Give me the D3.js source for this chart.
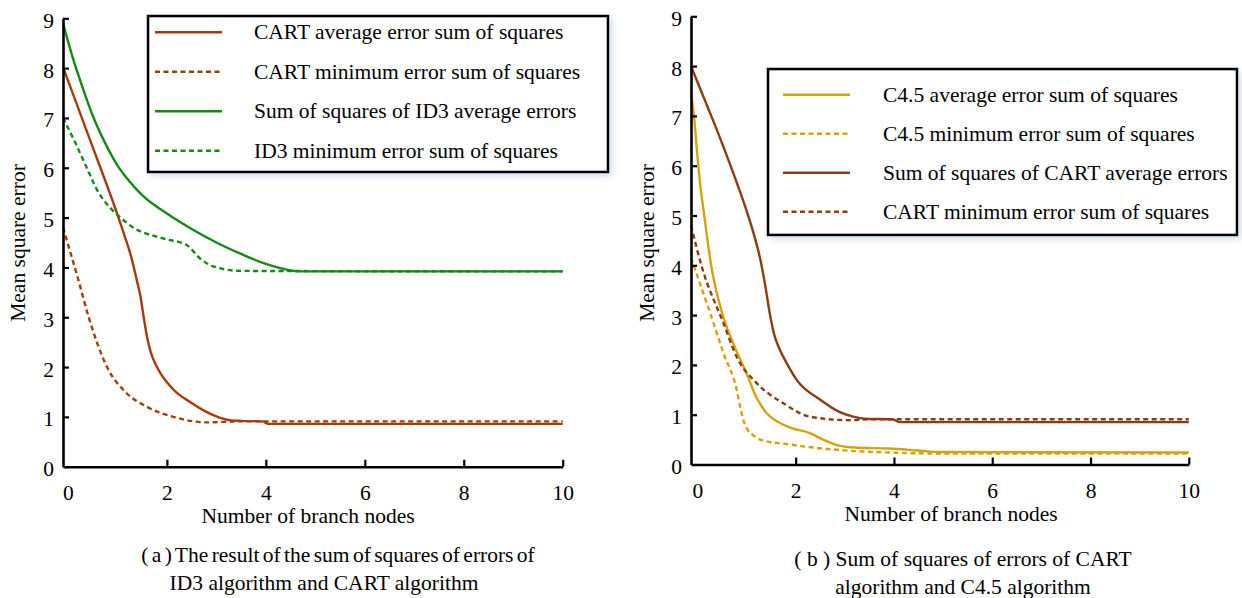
<!DOCTYPE html>
<html>
<head>
<meta charset="utf-8">
<script src="https://cdn.jsdelivr.net/npm/d3@7"></script>
<style>
  html, body { margin: 0; padding: 0; background: #fff; }
  svg { display: block; font-family: "Liberation Serif", "Times New Roman", serif; }
</style>
</head>
<body>
<svg id="chart" width="1242" height="598"></svg>
<script>
// ---- data ----
const xTicks = [0, 2, 4, 6, 8, 10];
const yTicks = [0, 1, 2, 3, 4, 5, 6, 7, 8, 9];

// panel (a)
const cartAvgA = [[-0.1, 8.02], [0.45, 6.55], [0.99, 5.09], [1.15, 4.62], [1.26, 4.28], [1.39, 3.75], [1.46, 3.45],
  [1.53, 3.01], [1.6, 2.6], [1.68, 2.28], [1.8, 2.0], [2.13, 1.55], [2.5, 1.28], [2.8, 1.1], [3.05, 0.99],
  [3.3, 0.93], [3.5, 0.92], [3.93, 0.91], [4.05, 0.86], [10, 0.86]];
const cartMinA = [[-0.1, 4.8], [0.21, 3.75], [0.42, 3.0], [0.79, 2.0], [1.16, 1.5], [1.6, 1.2], [2.13, 1.0],
  [2.8, 0.89], [3.5, 0.91], [10, 0.91]];
const id3Avg = [[-0.1, 8.9], [0.1, 8.2], [0.3, 7.6], [0.5, 7.05], [0.75, 6.5], [1.0, 6.05], [1.25, 5.72],
  [1.5, 5.45], [2.0, 5.08], [2.5, 4.77], [3.0, 4.5], [3.5, 4.27], [4.0, 4.07], [4.4, 3.96], [4.7, 3.92], [10, 3.92]];
const id3Min = [[-0.1, 7], [0.15, 6.5], [0.38, 6.0], [0.62, 5.5], [0.85, 5.2], [1.04, 5.02], [1.32, 4.8],
  [1.93, 4.58], [2.4, 4.45], [2.67, 4.18], [2.94, 4.02], [3.5, 3.93], [10, 3.92]];

// panel (b)
const c45Avg = [[-0.13, 7.45], [-0.07, 7.0], [0.0, 6.2], [0.06, 5.6], [0.14, 5.0], [0.28, 4.0], [0.5, 3.05],
  [0.73, 2.43], [1.0, 1.83], [1.2, 1.35], [1.3, 1.18], [1.41, 1.03], [1.6, 0.88], [1.89, 0.74], [2.29, 0.63],
  [2.6, 0.48], [2.84, 0.39], [3.2, 0.34], [3.92, 0.32], [4.5, 0.28], [4.94, 0.25], [10, 0.24]];
const c45Min = [[-0.13, 4.15], [0.26, 3.04], [0.53, 2.24], [0.8, 1.5], [0.88, 1.12], [0.95, 0.85], [1.02, 0.7],
  [1.12, 0.6], [1.28, 0.5], [1.89, 0.4], [2.9, 0.29], [3.92, 0.24], [5, 0.22], [10, 0.22]];
const cartAvgB = [[-0.13, 8], [0.2, 7.2], [0.46, 6.56], [0.75, 5.8], [1.0, 5.1], [1.15, 4.62], [1.28, 4.12],
  [1.38, 3.6], [1.47, 3.05], [1.56, 2.62], [1.68, 2.3], [1.82, 2.03], [2.02, 1.7], [2.5, 1.3], [2.9, 1.05],
  [3.17, 0.96], [3.4, 0.92], [3.97, 0.91], [4.12, 0.85], [10, 0.85]];
const cartMinB = [[-0.13, 4.8], [0.09, 3.97], [0.53, 2.84], [0.8, 2.16], [1.21, 1.63], [1.75, 1.23],
  [2.29, 0.96], [3.1, 0.89], [3.6, 0.91], [10, 0.91]];

const namesA = ["CART average error sum of squares", "CART minimum error sum of squares",
  "Sum of squares of ID3 average errors", "ID3 minimum error sum of squares"];
const namesB = ["C4.5 average error sum of squares", "C4.5 minimum error sum of squares",
  "Sum of squares of CART average errors", "CART minimum error sum of squares"];

const captionA = ["( a ) The result of the sum of squares of errors of", "ID3 algorithm and CART algorithm"];
const captionB = ["( b ) Sum of squares of errors of CART", "algorithm and C4.5 algorithm"];

const svg = d3.select("#chart");
const FS = 21.5;

// soft shadow like the original
const defs = svg.append("defs");
defs.append("filter").attr("id", "shadow").attr("x", "-10%").attr("y", "-10%").attr("width", "130%").attr("height", "130%")
  .append("feDropShadow").attr("dx", 3).attr("dy", 3).attr("stdDeviation", 3)
  .attr("flood-color", "#b8c8e0").attr("flood-opacity", 0.6);

const panels = [
  {
    x0: -0.1, xr: [63, 562.7], yr: [466.7, 18.3],
    series: [
      { data: cartAvgA, color: "#a53b0b", dash: null, name: namesA[0] },
      { data: cartMinA, color: "#a53b0b", dash: "5,3.5", name: namesA[1] },
      { data: id3Avg, color: "#148a14", dash: null, name: namesA[2] },
      { data: id3Min, color: "#148a14", dash: "5,3.5", name: namesA[3] }
    ],
    legend: { x: 148, y: 16, w: 460, h: 156, lineX: [155, 222], textX: 254, base: 39.3, step: 39.5 },
    ylabel: { x: 25, y: 243 },
    xlabel: { x: 308, y: 523 },
    tickBase: 500,
    caption: captionA, capX: [338, 324], capY: [562, 590], capSpacing: [-2, 0]
  },
  {
    x0: -0.13, xr: [691, 1188.8], yr: [464.5, 16.3],
    series: [
      { data: c45Avg, color: "#d6a20a", dash: null, name: namesB[0] },
      { data: c45Min, color: "#d6a20a", dash: "5,3.5", name: namesB[1] },
      { data: cartAvgB, color: "#8c3c12", dash: null, name: namesB[2] },
      { data: cartMinB, color: "#8c3c12", dash: "5,3.5", name: namesB[3] }
    ],
    legend: { x: 768, y: 69, w: 469, h: 166, lineX: [783, 850], textX: 883, base: 101.7, step: 39 },
    ylabel: { x: 654, y: 243 },
    xlabel: { x: 951, y: 521 },
    tickBase: 498,
    caption: captionB, capX: [963, 963], capY: [566, 594], capSpacing: [0, 0]
  }
];

panels.forEach(p => {
  const x = d3.scaleLinear().domain([p.x0, 10]).range(p.xr);
  const y = d3.scaleLinear().domain([0, 9]).range(p.yr);
  const g = svg.append("g");

  const line = d3.line().x(d => x(d[0])).y(d => y(d[1])).curve(d3.curveMonotoneX);

  p.series.forEach(s => {
    g.append("path")
      .attr("d", line(s.data))
      .attr("fill", "none")
      .attr("stroke", s.color)
      .attr("stroke-width", 2.4)
      .attr("stroke-dasharray", s.dash);
  });

  // y axis
  const yAxis = g.append("g")
    .attr("transform", `translate(${p.xr[0]},0)`)
    .call(d3.axisLeft(y).tickValues(yTicks).tickSizeInner(-6).tickSizeOuter(0).tickPadding(9));
  // x axis
  const xAxis = g.append("g")
    .attr("transform", `translate(0,${p.yr[0]})`)
    .call(d3.axisBottom(x).tickValues(xTicks).tickSizeInner(-7).tickSizeOuter(0).tickPadding(0));

  [yAxis, xAxis].forEach(a => {
    a.select(".domain").attr("stroke", "#000").attr("stroke-width", 2.6);
    a.selectAll(".tick line").attr("stroke", "#000").attr("stroke-width", 2.2);
    a.selectAll(".tick text").attr("fill", "#000").style("font-size", FS + "px")
      .style("font-family", "'Liberation Serif', serif");
  });
  yAxis.selectAll(".tick text").attr("dy", "0.42em");
  xAxis.selectAll(".tick text").attr("dy", null).attr("y", p.tickBase - p.yr[0]);
  xAxis.selectAll(".tick").filter(d => d === 0).select("line").remove();
  yAxis.selectAll(".tick").filter(d => d === 0).select("line").remove();

  // axis titles
  g.append("text")
    .attr("transform", `translate(${p.ylabel.x},${p.ylabel.y}) rotate(-90)`)
    .attr("text-anchor", "middle")
    .style("font-size", FS + "px")
    .text("Mean square error");
  g.append("text")
    .attr("x", p.xlabel.x).attr("y", p.xlabel.y)
    .attr("text-anchor", "middle")
    .style("font-size", FS + "px")
    .text("Number of branch nodes");

  // legend
  const L = p.legend;
  g.append("rect")
    .attr("x", L.x).attr("y", L.y).attr("width", L.w).attr("height", L.h)
    .attr("fill", "#fff").attr("stroke", "#000").attr("stroke-width", 2.6)
    .attr("filter", "url(#shadow)");
  p.series.forEach((s, i) => {
    const by = L.base + i * L.step;
    g.append("line")
      .attr("x1", L.lineX[0]).attr("x2", L.lineX[1])
      .attr("y1", by - 7).attr("y2", by - 7)
      .attr("stroke", s.color).attr("stroke-width", 2.4)
      .attr("stroke-dasharray", s.dash);
    g.append("text")
      .attr("x", L.textX).attr("y", by)
      .style("font-size", FS + "px")
      .text(s.name);
  });

  // caption
  p.caption.forEach((c, i) => {
    svg.append("text")
      .attr("x", p.capX[i]).attr("y", p.capY[i])
      .attr("text-anchor", "middle")
      .style("font-size", FS + "px")
      .style("word-spacing", p.capSpacing[i] + "px")
      .text(c);
  });
});
</script>
</body>
</html>
